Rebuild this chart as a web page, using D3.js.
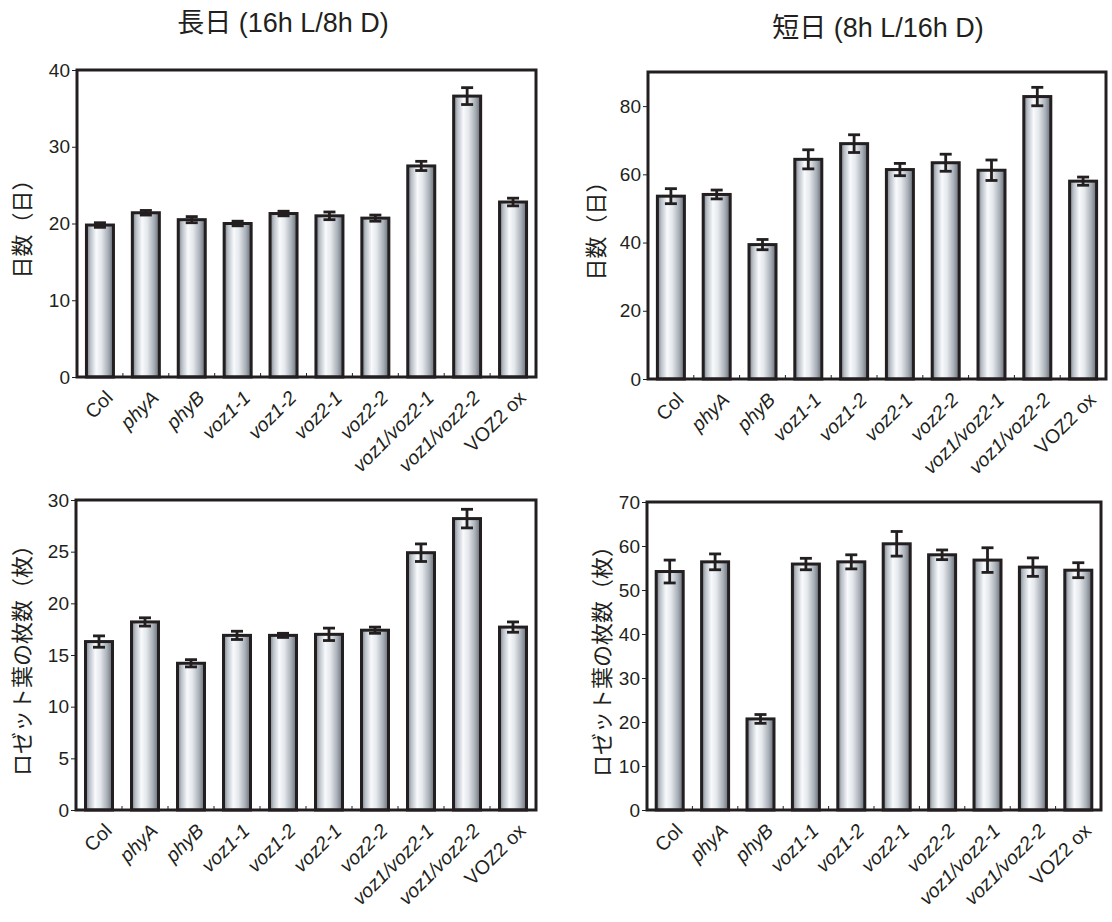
<!DOCTYPE html>
<html>
<head>
<meta charset="utf-8">
<script src="https://cdn.jsdelivr.net/npm/d3@7"></script>
<style>
  body { margin: 0; background: #fff; }
  text { font-family: "Liberation Sans", "Noto Sans CJK JP", sans-serif; fill: #231f20; }
</style>
</head>
<body>
<svg id="chartsvg" width="1112" height="922"></svg>
<script>
var vis = d3.select("#chartsvg");

// genotypes on the x axis, same order in every panel
let lines = ["Col", "phyA", "phyB", "voz1-1", "voz1-2", "voz2-1", "voz2-2", "voz1/voz2-1", "voz1/voz2-2", "VOZ2 ox"];
let italicLines = [false, true, true, true, true, true, true, true, true, false];

// days to flowering, long day / short day
let ldDays = [19.8, 21.4, 20.5, 20.0, 21.3, 21.0, 20.7, 27.5, 36.6, 22.8];
let ldDaysErr = [0.3, 0.3, 0.4, 0.3, 0.3, 0.5, 0.4, 0.6, 1.1, 0.5];
let sdDays = [53.6, 54.1, 39.4, 64.4, 69.0, 61.4, 63.4, 61.2, 82.8, 58.0];
let sdDaysErr = [2.2, 1.3, 1.5, 2.8, 2.6, 1.8, 2.5, 3.0, 2.7, 1.2];

// rosette leaf number, long day / short day
let ldLeaves = [16.3, 18.2, 14.2, 16.9, 16.9, 17.0, 17.4, 24.9, 28.2, 17.7];
let ldLeavesErr = [0.55, 0.4, 0.35, 0.4, 0.2, 0.6, 0.3, 0.85, 0.9, 0.5];
let sdLeaves = [54.2, 56.4, 20.7, 55.9, 56.4, 60.5, 58.0, 56.8, 55.2, 54.5];
let sdLeavesErr = [2.6, 1.8, 1.0, 1.3, 1.6, 2.8, 1.1, 2.8, 2.1, 1.7];

let ldTicks = [0, 10, 20, 30, 40];
let sdTicks = [0, 20, 40, 60, 80];
let ldLeafTicks = [0, 5, 10, 15, 20, 25, 30];
let sdLeafTicks = [0, 10, 20, 30, 40, 50, 60, 70];

let titles = ["長日 (16h L/8h D)", "短日 (8h L/16h D)"];
let daysLabel = "日数（日）";
let leavesLabel = "ロゼット葉の枚数（枚）";

const ink = "#231f20";

// bar shading, dark edges with a bright streak left of centre
var grad = vis.append("defs").append("linearGradient")
    .attr("id", "barGrad").attr("x1", 0).attr("x2", 1).attr("y1", 0).attr("y2", 0);
[[0, "#737a83"], [0.14, "#b9bfc6"], [0.36, "#f8fafc"], [0.55, "#e4e8ec"], [0.8, "#a9afb7"], [1, "#656c75"]]
    .forEach(s => grad.append("stop").attr("offset", s[0]).attr("stop-color", s[1]));

function translate(x, y) { return "translate(" + x + "," + y + ")"; }

function drawPanel(p) {
    var w = p.x1 - p.x0, h = p.y1 - p.y0;
    var g = vis.append("g").attr("transform", translate(p.x0, p.y0));

    var xScale = d3.scaleBand().domain(lines).range([0, w]);
    var yScale = d3.scaleLinear().domain([0, p.max]).range([h, 0]);
    var barW = 27;

    // bars
    g.selectAll(".bar").data(p.values).enter()
        .append("rect").attr("class", "bar")
        .attr("x", (d, i) => xScale(lines[i]) + (xScale.bandwidth() - barW) / 2)
        .attr("y", d => yScale(d))
        .attr("width", barW)
        .attr("height", d => yScale(0) - yScale(d))
        .attr("fill", "url(#barGrad)")
        .attr("stroke", ink).attr("stroke-width", 3);

    // error bars
    var eb = g.selectAll(".err").data(p.values).enter().append("g").attr("class", "err")
        .attr("stroke", ink).attr("stroke-width", 2.8);
    eb.append("line")
        .attr("x1", (d, i) => xScale(lines[i]) + xScale.bandwidth() / 2)
        .attr("x2", (d, i) => xScale(lines[i]) + xScale.bandwidth() / 2)
        .attr("y1", (d, i) => yScale(d - p.errs[i]))
        .attr("y2", (d, i) => yScale(d + p.errs[i]));
    [-1, 1].forEach(sgn => {
        eb.append("line")
            .attr("x1", (d, i) => xScale(lines[i]) + xScale.bandwidth() / 2 - 6)
            .attr("x2", (d, i) => xScale(lines[i]) + xScale.bandwidth() / 2 + 6)
            .attr("y1", (d, i) => yScale(d + sgn * p.errs[i]))
            .attr("y2", (d, i) => yScale(d + sgn * p.errs[i]));
    });

    // small inward ticks between the bars
    g.selectAll(".xtick").data(lines.slice(1)).enter()
        .append("line")
        .attr("x1", d => xScale(d)).attr("x2", d => xScale(d))
        .attr("y1", h).attr("y2", h - 4)
        .attr("stroke", ink).attr("stroke-width", 1);

    // y axis
    var yAxis = d3.axisLeft(yScale).tickValues(p.ticks).tickSize(5).tickPadding(2);
    var ya = g.append("g").call(yAxis);
    ya.select(".domain").remove();
    ya.selectAll("line").attr("stroke", ink);
    ya.selectAll("text").style("font-size", "19px").attr("fill", ink);

    // frame
    g.append("rect").attr("width", w).attr("height", h)
        .attr("fill", "none").attr("stroke", ink).attr("stroke-width", 3);

    // category labels
    g.selectAll(".xlab").data(lines).enter()
        .append("text")
        .attr("transform", d => translate(xScale(d) + xScale.bandwidth() / 2 + 14, h + 22) + " rotate(-45)")
        .attr("text-anchor", "end")
        .style("font-size", "19.5px")
        .style("font-style", (d, i) => italicLines[i] ? "italic" : "normal")
        .text(d => d);

    // y title
    vis.append("text")
        .attr("transform", translate(p.labelX, p.y0 + h / 2) + " rotate(-90)")
        .attr("text-anchor", "middle")
        .style("font-size", "22px")
        .text(p.label);

    if (p.title) {
        vis.append("text")
            .attr("x", p.titleX).attr("y", p.titleY)
            .attr("text-anchor", "middle")
            .style("font-size", "27px")
            .text(p.title);
    }
}

drawPanel({x0: 77, x1: 536, y0: 70, y1: 377, max: 40, ticks: ldTicks, values: ldDays, errs: ldDaysErr,
    label: daysLabel, labelX: 30, title: titles[0], titleX: 283, titleY: 32});
drawPanel({x0: 648, x1: 1106, y0: 72, y1: 379, max: 90, ticks: sdTicks, values: sdDays, errs: sdDaysErr,
    label: daysLabel, labelX: 604, title: titles[1], titleX: 878, titleY: 37});
drawPanel({x0: 76, x1: 536, y0: 500, y1: 810, max: 30, ticks: ldLeafTicks, values: ldLeaves, errs: ldLeavesErr,
    label: leavesLabel, labelX: 30});
drawPanel({x0: 647, x1: 1101, y0: 502, y1: 810, max: 70, ticks: sdLeafTicks, values: sdLeaves, errs: sdLeavesErr,
    label: leavesLabel, labelX: 610});
</script>
</body>
</html>
